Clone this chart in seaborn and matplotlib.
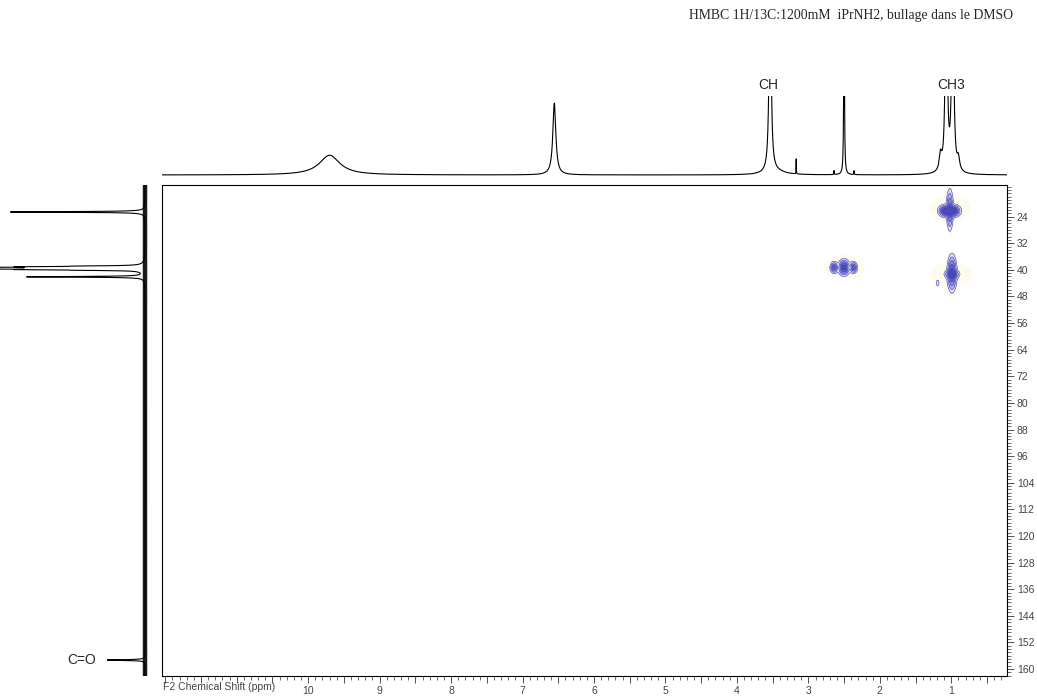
"""
HMBC 1H/13C spectrum of iPrNH2 (1200 mM) bubbled in DMSO
2D contour map with the 1H projection on top and the 13C projection on the left.
"""

import numpy as np
import pandas as pd
import matplotlib
matplotlib.use("Agg")
import matplotlib.pyplot as plt
from matplotlib.ticker import FixedLocator, MultipleLocator, FuncFormatter
import seaborn as sns

sns.set_style("white")
plt.rcParams["font.family"] = ["Liberation Sans", "DejaVu Sans"]

# ---------------------------------------------------------------
# 1. DATA (peak lists)
# ---------------------------------------------------------------
TITLE = "HMBC 1H/13C:1200mM  iPrNH2, bullage dans le DMSO"

# 1H projection (F2): position (ppm), height (1.0 = top of the strip), FWHM (ppm)
h_pos    = [9.70, 6.555, 3.535, 3.45, 3.17, 2.64, 2.50, 2.36, 1.15, 1.07, 0.98, 0.90]
h_height = [0.25, 0.91,  3.0,   0.04, 0.19, 0.05, 3.0,  0.05, 0.20, 3.0,  3.0,  0.15]
h_fwhm   = [0.35, 0.05,  0.03,  0.30, 0.004, 0.006, 0.01, 0.006, 0.04, 0.03, 0.03, 0.04]

# 13C projection (F1): position (ppm), height (1.0 = left edge), FWHM (ppm)
c_pos    = [22.6, 38.87, 39.08, 39.29, 39.50, 39.71, 39.92, 40.13, 42.1, 157.3]
c_height = [0.93, 0.30,  0.60,  0.85,  0.96,  0.85,  0.60,  0.30,  0.81, 0.26]
c_fwhm   = [0.25, 0.20,  0.20,  0.20,  0.20,  0.20,  0.20,  0.20,  0.25, 0.25]

# 2D cross peaks: F2 (ppm), F1 (ppm), amplitude, width F2, width F1
xp_f2  = [1.08, 0.97, 1.02, 0.99, 0.99, 1.19, 2.50, 2.64, 2.37, 1.02, 0.99, 2.50]
xp_f1  = [22.3, 22.3, 22.0, 41.0, 41.3, 44.0, 39.3, 39.3, 39.3, 21.5, 41.5, 39.3]
xp_amp = [1.0,  1.0,  0.55, 0.80, 0.70, 0.12, 0.90, 0.60, 0.60, 0.03, 0.03, 0.03]
xp_sx  = [0.045, 0.045, 0.022, 0.030, 0.045, 0.012, 0.035, 0.025, 0.025, 0.28, 0.28, 0.28]
xp_sy  = [0.8,  0.8,  3.0,  2.6,  0.6,  0.6,  1.1,  0.8,  0.8,  3.5,  3.5,  3.0]

labels_h = ["CH", "CH3"]
labels_h_ppm = [3.56, 1.00]

F2_LIM = (12.05, 0.22)
F1_LIM = (162.1, 14.5)


def lorentz_sum(grid, pos, height, fwhm):
    out = np.zeros_like(grid)
    for p, h, w in zip(pos, height, fwhm):
        out += h / (1 + ((grid - p) / (w / 2)) ** 2)
    return out


# ---------------------------------------------------------------
# 2. FIGURE LAYOUT
# ---------------------------------------------------------------
W_PX, H_PX = 1037, 696
fig = plt.figure(figsize=(W_PX / 100, H_PX / 100), dpi=100)

def px_box(x0, y0, x1, y1):
    return [x0 / W_PX, 1 - y1 / H_PX, (x1 - x0) / W_PX, (y1 - y0) / H_PX]

ax = fig.add_axes(px_box(161.7, 185, 1007, 676))
ax_top = fig.add_axes(px_box(161.7, 96, 1007, 178))
ax_left = fig.add_axes(px_box(0, 185, 152, 676))

# ---------------------------------------------------------------
# 3. 2D CONTOURS
# ---------------------------------------------------------------
f2 = np.linspace(0.3, 3.2, 700)
f1 = np.linspace(12, 60, 700)
X2, Y1 = np.meshgrid(f2, f1)
Z = np.zeros_like(X2)
for x0, y0, a, sx, sy in zip(xp_f2, xp_f1, xp_amp, xp_sx, xp_sy):
    Z += a * np.exp(-0.5 * ((X2 - x0) / sx) ** 2 - 0.5 * ((Y1 - y0) / sy) ** 2)

levels = [0.018, 0.06, 0.15, 0.3, 0.5, 0.75, 5]
fill_colors = ["#fefbec", "#dcdcf4", "#b4b4e8", "#8a8ad8", "#6464c6", "#4a4ab4"]
ax.contourf(X2, Y1, Z, levels=levels, colors=fill_colors)
ax.contour(X2, Y1, Z, levels=levels[1:-1], colors="#4646b0", linewidths=0.4)

ax.set_xlim(*F2_LIM)
ax.set_ylim(*F1_LIM)
for s in ax.spines.values():
    s.set_color("black")
    s.set_linewidth(0.8)

ax.xaxis.set_major_locator(MultipleLocator(0.5))
ax.xaxis.set_minor_locator(MultipleLocator(0.1))
ax.xaxis.set_major_formatter(FuncFormatter(
    lambda v, p: f"{v:.0f}" if abs(v - round(v)) < 1e-6 and 1 <= round(v) <= 10 else ""))
ax.yaxis.tick_right()
ax.yaxis.set_major_locator(FixedLocator(np.arange(24, 161, 8)))
ax.yaxis.set_minor_locator(MultipleLocator(1))
ax.tick_params(axis="both", which="major", direction="out", length=5, width=0.6,
               color="#333333", labelsize=7.5, labelcolor="#444444", pad=2)
ax.tick_params(axis="both", which="minor", direction="out", length=3, width=0.5,
               color="#333333")
ax.tick_params(axis="x", which="both", bottom=True, top=False)
ax.tick_params(axis="y", which="both", left=False, right=True)
ax.set_xlabel("")
ax.set_ylabel("")

fig.text(163 / W_PX, 1 - 687 / H_PX, "F2 Chemical Shift (ppm)", fontsize=7.5,
         color="#444444", ha="left", va="center")

# ---------------------------------------------------------------
# 4. 1H PROJECTION (TOP)
# ---------------------------------------------------------------
h_grid = np.linspace(F2_LIM[1], F2_LIM[0], 14000)
df_h = pd.DataFrame({"ppm": h_grid, "I": lorentz_sum(h_grid, h_pos, h_height, h_fwhm)})
sns.lineplot(data=df_h, x="ppm", y="I", ax=ax_top, color="black", lw=0.8,
             estimator=None, sort=False)
ax_top.set_xlim(*F2_LIM)
ax_top.set_ylim(-0.038, 1.0)
ax_top.axis("off")

for lab, p in zip(labels_h, labels_h_ppm):
    xpix = 161.7 + (F2_LIM[0] - p) / (F2_LIM[0] - F2_LIM[1]) * (1007 - 161.7)
    fig.text(xpix / W_PX, 1 - 85 / H_PX, lab, fontsize=10, ha="center", va="center")

# ---------------------------------------------------------------
# 5. 13C PROJECTION (LEFT)
# ---------------------------------------------------------------
c_grid = np.linspace(F1_LIM[1], F1_LIM[0], 12000)
df_c = pd.DataFrame({"ppm": c_grid, "I": lorentz_sum(c_grid, c_pos, c_height, c_fwhm)})
ax_left.plot([0, 0], [F1_LIM[1], F1_LIM[0]], color="#1a1a1a", lw=3.2,
             solid_capstyle="butt")
sns.lineplot(data=df_c, x="I", y="ppm", ax=ax_left, color="black", lw=0.8,
             estimator=None, sort=False)
ax_left.set_xlim(1.0, -0.048)
ax_left.set_ylim(*F1_LIM)
ax_left.axis("off")

fig.text(82 / W_PX, 1 - 660 / H_PX, "C=O", fontsize=10, ha="center", va="center")

# ---------------------------------------------------------------
# 6. TITLE
# ---------------------------------------------------------------
fig.text(1013 / W_PX, 1 - 15 / H_PX, TITLE, fontsize=9.9, ha="right", va="center",
         family=["Liberation Serif", "DejaVu Serif"])

plt.savefig("out.png", dpi=100)
plt.close()
